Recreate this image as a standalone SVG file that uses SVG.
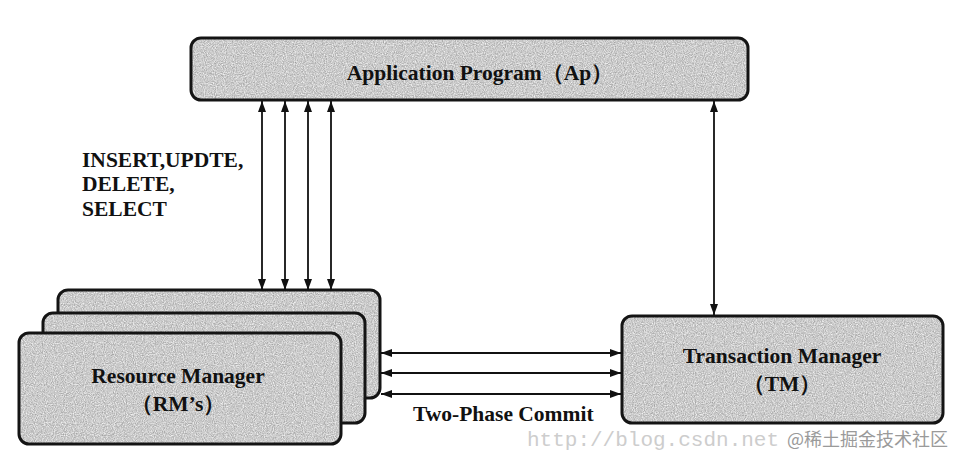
<svg xmlns="http://www.w3.org/2000/svg" width="964" height="466" viewBox="0 0 964 466">
<style>
.fill{fill:#c8c8c8;stroke:none;filter:url(#tex)}
.box{fill:none;stroke:#141414;stroke-width:3}
.lbl{font-family:"Liberation Serif","Times New Roman",serif;font-weight:bold;fill:#111;font-size:21.5px}
.ctr{text-anchor:middle}
.conn line{stroke:#111;stroke-width:1.8;marker-start:url(#ah);marker-end:url(#ah)}
.wm{font-family:"Liberation Mono",monospace;fill:#cdcdcd;font-size:21px}
.wm2{font-family:"Noto Sans CJK SC","Noto Sans",sans-serif;fill:#9a9a9a;font-size:18px}
</style>
<defs>
<marker id="ah" viewBox="0 0 11 8" refX="11" refY="4" markerWidth="11" markerHeight="8" markerUnits="userSpaceOnUse" orient="auto-start-reverse">
<path d="M0,0 L11,4 L0,8 Z" fill="#111"/>
</marker>
<filter id="tex" x="0" y="0" width="100%" height="100%" color-interpolation-filters="sRGB">
<feTurbulence type="fractalNoise" baseFrequency="0.9" numOctaves="2" seed="3" result="n"/>
<feColorMatrix in="n" type="matrix" values="0.45 0 0 0 0.57  0.45 0 0 0 0.57  0.45 0 0 0 0.57  0 0 0 0 1" result="g"/>
<feComposite in="g" in2="SourceAlpha" operator="in"/>
</filter>
</defs>
<rect width="964" height="466" fill="#fff"/>
<g id="ap">
<rect class="fill" x="191" y="38" width="557" height="62" rx="10"/>
<rect class="box" x="191" y="38" width="557" height="62" rx="10"/>
<text class="lbl ctr" x="480" y="80">Application Program（Ap）</text>
</g>
<g id="rm">
<rect class="fill" x="58" y="290" width="322" height="108" rx="10"/>
<rect class="box" x="58" y="290" width="322" height="108" rx="10"/>
<rect class="fill" x="43" y="313" width="322" height="110" rx="10"/>
<rect class="box" x="43" y="313" width="322" height="110" rx="10"/>
<rect class="fill" x="19" y="333" width="322" height="111" rx="10"/>
<rect class="box" x="19" y="333" width="322" height="111" rx="10"/>
<text class="lbl ctr" x="178" y="383">Resource Manager</text>
<text class="lbl ctr" x="178" y="411">（RM’s）</text>
</g>
<g id="tm">
<rect class="fill" x="622" y="316" width="321" height="107" rx="10"/>
<rect class="box" x="622" y="316" width="321" height="107" rx="10"/>
<text class="lbl ctr" x="782" y="363">Transaction Manager</text>
<text class="lbl ctr" x="782" y="391">（TM）</text>
</g>
<g id="connectors" class="conn">
<line x1="262" y1="290" x2="262" y2="101"/>
<line x1="285" y1="290" x2="285" y2="101"/>
<line x1="308" y1="290" x2="308" y2="101"/>
<line x1="331" y1="290" x2="331" y2="101"/>
<line x1="714" y1="315" x2="714" y2="101"/>
<line x1="381" y1="353" x2="621" y2="353"/>
<line x1="381" y1="373" x2="621" y2="373"/>
<line x1="381" y1="394" x2="621" y2="394"/>
</g>
<g id="labels">
<text class="lbl" x="82" y="167">INSERT,UPDTE,</text>
<text class="lbl" x="82" y="191">DELETE,</text>
<text class="lbl" x="82" y="216">SELECT</text>
<text class="lbl" x="413" y="421">Two-Phase Commit</text>
</g>
<g id="watermark">
<text class="wm" x="527" y="446">http://blog.csdn.net</text>
<text class="wm2" x="787" y="446">@稀土掘金技术社区</text>
</g>
</svg>
